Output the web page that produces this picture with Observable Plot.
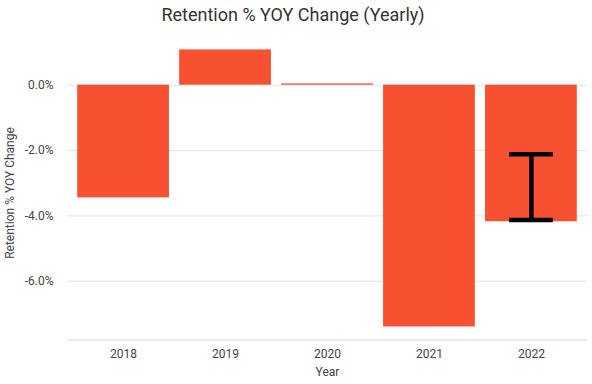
<!DOCTYPE html>
<html>
<head>
<meta charset="utf-8">
<script src="https://cdn.jsdelivr.net/npm/d3@7"></script>
<script src="https://cdn.jsdelivr.net/npm/@observablehq/plot@0.6"></script>
<style>
  html, body { margin: 0; padding: 0; background: #fff; }
  #title { width: 592px; height: 32px; box-sizing: border-box; font-family: Roboto, sans-serif; font-size: 18px; color: #333; text-align: center; line-height: 32px; }
  #title span { position: relative; left: -3px; top: -1px; }
  svg { display: block; font-family: Roboto, sans-serif; }
</style>
</head>
<body>
<div id="title"><span>Retention % YOY Change (Yearly)</span></div>
<div id="chart"></div>
<script>
const years = ["2018", "2019", "2020", "2021", "2022"];
const values = [-3.45, 1.08, 0.04, -7.40, -4.18];
const errYear = ["2022"];
const errLow = [-4.13];
const errHigh = [-2.11];
const yTicks = [-6, -4, -2, 0];

const data = years.map((y, i) => ({year: y, value: values[i]}));
const errs = errYear.map((y, i) => ({year: y, lo: errLow[i], hi: errHigh[i]}));

const chart = Plot.plot({
  width: 592,
  height: 352,
  marginLeft: 67,
  marginRight: 5,
  marginTop: 13.5,
  marginBottom: 44.5,
  x: {domain: years, padding: 0.1, round: false},
  y: {domain: [-7.8, 1.2]},
  style: {fontFamily: "Roboto, sans-serif", fontSize: "12px", color: "#444", background: "#fff"},
  marks: [
    Plot.gridY(yTicks, {stroke: "#e3e3e3", strokeOpacity: 1}),
    Plot.ruleY([-7.8], {stroke: "#cfd3db", strokeWidth: 1}),
    Plot.barY(data, {x: "year", y: "value", fill: "#f65232"}),
    Plot.ruleX(errs, {x: "year", y1: "lo", y2: "hi", stroke: "#000", strokeWidth: 4.5}),
    Plot.tickY(errs, {x: "year", y: "lo", stroke: "#000", strokeWidth: 4.5, insetLeft: 24, insetRight: 24}),
    Plot.tickY(errs, {x: "year", y: "hi", stroke: "#000", strokeWidth: 4.5, insetLeft: 24, insetRight: 24}),
    Plot.axisY(yTicks, {tickSize: 0, tickPadding: 14, tickFormat: d => d.toFixed(1) + "%", label: "Retention % YOY Change", labelAnchor: "center", labelArrow: "none", labelOffset: 62, fill: "#444"}),
    Plot.axisX({tickSize: 0, tickPadding: 9, label: "Year", labelAnchor: "center", labelArrow: "none", labelOffset: 36, fill: "#444"})
  ]
});
document.getElementById("chart").appendChild(chart);
</script>
</body>
</html>
